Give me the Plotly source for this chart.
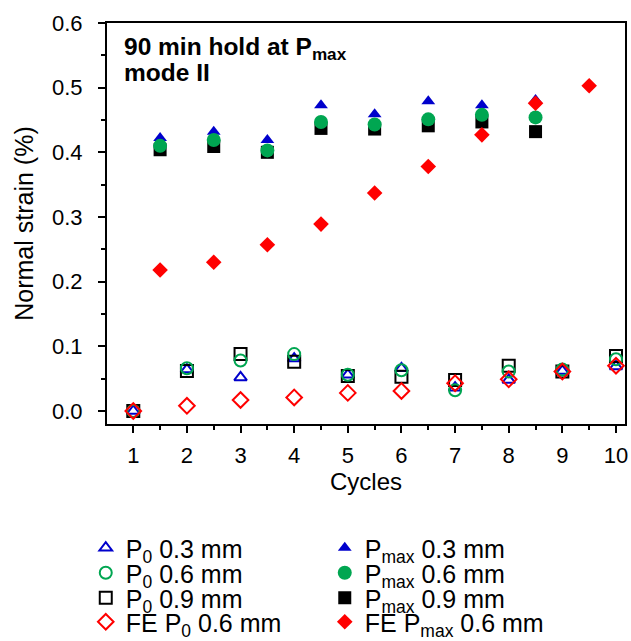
import plotly.graph_objects as go

# ---------------- data ----------------
cycles_p0 = [1, 2, 3, 4, 5, 6, 7, 8, 9, 10]
cycles_pmax = [1.5, 2.5, 3.5, 4.5, 5.5, 6.5, 7.5, 8.5]
cycles_fe_pmax = [1.5, 2.5, 3.5, 4.5, 5.5, 6.5, 7.5, 8.5, 9.5]

p0_03 = [0.0, 0.064, 0.052, 0.081, 0.056, 0.066, 0.036, 0.048, 0.062, 0.069]
p0_06 = [0.0, 0.066, 0.078, 0.088, 0.056, 0.063, 0.032, 0.061, 0.064, 0.080]
p0_09 = [0.0, 0.062, 0.088, 0.076, 0.054, 0.053, 0.048, 0.070, 0.061, 0.085]
fe_p0_06 = [0.0, 0.008, 0.017, 0.021, 0.028, 0.031, 0.043, 0.049, 0.061, 0.070]

pmax_03 = [0.422, 0.432, 0.419, 0.473, 0.459, 0.479, 0.473, 0.481]
pmax_06 = [0.410, 0.419, 0.403, 0.447, 0.443, 0.451, 0.458, 0.454]
pmax_09 = [0.404, 0.409, 0.400, 0.437, 0.436, 0.441, 0.447, 0.432]
fe_pmax_06 = [0.218, 0.230, 0.257, 0.289, 0.337, 0.378, 0.427, 0.476, 0.503]

x_ticks = [1, 2, 3, 4, 5, 6, 7, 8, 9, 10]
y_ticks = [0.0, 0.1, 0.2, 0.3, 0.4, 0.5, 0.6]
y_ticklabels = ["0.0", "0.1", "0.2", "0.3", "0.4", "0.5", "0.6"]

BLUE = "#0000CC"
GREEN = "#00A651"
BLACK = "#000000"
RED = "#FF0000"
FONT = "Liberation Sans, Arial, sans-serif"

fig = go.Figure()


def add(x, y, name, symbol, color, size, legend, filled):
    if filled:
        marker = dict(symbol=symbol, size=size, color=color, line=dict(width=0))
    else:
        marker = dict(symbol=symbol + "-open", size=size, color=color,
                      line=dict(width=2, color=color))
    fig.add_trace(go.Scatter(x=x, y=y, mode="markers", name=name,
                             marker=marker, legend=legend))


# draw order: open markers first, then filled; circles above squares/triangles
add(cycles_p0, p0_03, "P<sub>0</sub> 0.3 mm", "triangle-up", BLUE, 11, "legend", False)
add(cycles_pmax, pmax_03, "P<sub>max</sub> 0.3 mm", "triangle-up", BLUE, 12, "legend", True)
add(cycles_p0, p0_09, "P<sub>0</sub> 0.9 mm", "square", BLACK, 12, "legend3", False)
add(cycles_p0, p0_06, "P<sub>0</sub> 0.6 mm", "circle", GREEN, 12, "legend2", False)
add(cycles_pmax, pmax_09, "P<sub>max</sub> 0.9 mm", "square", BLACK, 13, "legend3", True)
add(cycles_pmax, pmax_06, "P<sub>max</sub> 0.6 mm", "circle", GREEN, 14, "legend2", True)
add(cycles_p0, fe_p0_06, "FE P<sub>0</sub> 0.6 mm", "diamond", RED, 12, "legend4", False)
add(cycles_fe_pmax, fe_pmax_06, "FE P<sub>max</sub> 0.6 mm", "diamond", RED, 12, "legend4", True)

PLOT_TOP = 23
PLOT_BOTTOM = 424
PLOT_H = PLOT_BOTTOM - PLOT_TOP


def py(p):
    return (PLOT_BOTTOM - p) / PLOT_H


def legend_row(ypix):
    return dict(orientation="h", x=-0.041, xanchor="left", y=py(ypix), yanchor="middle",
                entrywidth=194, entrywidthmode="pixels",
                font=dict(family=FONT, size=25, color="black"),
                bgcolor="rgba(0,0,0,0)", borderwidth=0, traceorder="normal")


fig.update_layout(
    width=631, height=641,
    margin=dict(l=107, r=6, t=PLOT_TOP, b=641 - PLOT_BOTTOM, autoexpand=False),
    paper_bgcolor="white", plot_bgcolor="white",
    font=dict(family=FONT, size=22, color="black"),
    showlegend=True,
    legend=legend_row(548),
    legend2=legend_row(573),
    legend3=legend_row(598),
    legend4=legend_row(622),
    xaxis=dict(
        range=[0.51, 10.168], tickmode="array", tickvals=x_ticks,
        ticktext=[str(v) for v in x_ticks],
        ticks="outside", ticklen=7, tickwidth=2, tickcolor="black",
        showline=True, linecolor="black", linewidth=2, mirror=True,
        showgrid=False, zeroline=False, ticklabelstandoff=4,
        tickfont=dict(family=FONT, size=22, color="black"),
        minor=dict(dtick=0.5, tick0=0.5, ticks="outside", ticklen=4, tickwidth=2,
                   tickcolor="black", showgrid=False),
        title=dict(text="Cycles", font=dict(family=FONT, size=24, color="black"),
                   standoff=5),
    ),
    yaxis=dict(
        range=[-0.0201, 0.6], tickmode="array", tickvals=y_ticks, ticktext=y_ticklabels,
        ticks="outside", ticklen=7, tickwidth=2, tickcolor="black",
        showline=True, linecolor="black", linewidth=2, mirror=True,
        showgrid=False, zeroline=False, ticklabelstandoff=11,
        tickfont=dict(family=FONT, size=22, color="black"),
        minor=dict(dtick=0.05, tick0=0.0, ticks="outside", ticklen=4, tickwidth=2,
                   tickcolor="black", showgrid=False),
        title=dict(text="Normal strain (%)", font=dict(family=FONT, size=25, color="black"),
                   standoff=11),
    ),
    annotations=[
        dict(text="<b>90 min hold at P<sub>max</sub></b>", xref="paper", yref="paper",
             x=(122 - 107) / 518, y=py(49), xanchor="left", yanchor="middle",
             showarrow=False, font=dict(family=FONT, size=24.5, color="black")),
        dict(text="<b>mode II</b>", xref="paper", yref="paper",
             x=(122 - 107) / 518, y=py(72.5), xanchor="left", yanchor="middle",
             showarrow=False, font=dict(family=FONT, size=24.5, color="black")),
    ],
)

fig.write_html("out.html")
